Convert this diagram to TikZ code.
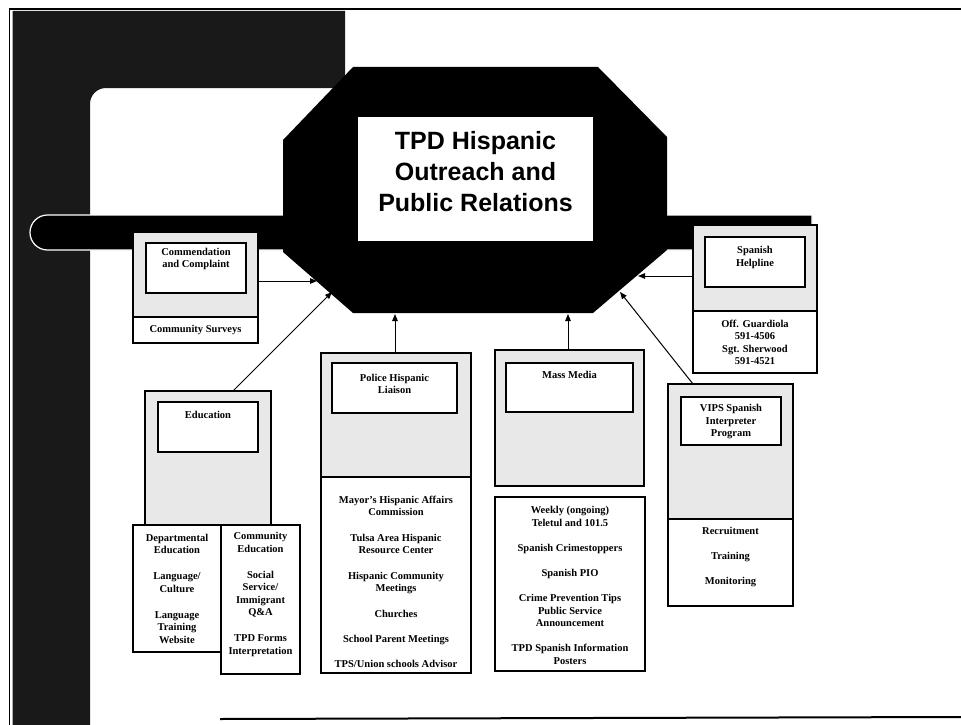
\documentclass[tikz,border=0pt]{standalone}
\usepackage{fontspec}
\setmainfont{Liberation Serif}
\newfontfamily\headfont{Liberation Sans}
\usetikzlibrary{arrows.meta}
\begin{document}
\begin{tikzpicture}[x=1pt,y=-1pt,
  panel/.style={draw, line width=1.2pt, fill=black!9, inner sep=0pt},
  inbox/.style={draw, line width=1.1pt, fill=white, inner sep=0pt},
  listbox/.style={draw, line width=1.2pt, fill=white, inner sep=0pt},
  lbl/.style={font=\fontsize{10.5}{12.5}\selectfont\bfseries, align=center, inner sep=0pt},
  conn/.style={line width=1pt, -{Triangle[length=7pt,width=5.5pt]}},
  frameline/.style={line width=2pt}]
\useasboundingbox (0,0) rectangle (961,725);
\fill[white] (0,0) rectangle (961,725);
% dark frame
\fill[black!90] (12.5,11) -- (345,11) -- (345,88) -- (106,88)
  arc[start angle=-90, end angle=-180, radius=16] -- (90,725) -- (12.5,725) -- cycle;
\draw[line width=2.5pt] (9.5,9) -- (961,9);
\draw[line width=1.5pt] (9.5,8) -- (9.5,725);
\draw[frameline] (220,719) -- (961,717);
% bar
\filldraw[fill=black, draw=white, line width=1.2pt] (812,215) -- (47.5,215)
  arc[start angle=-90, end angle=-270, radius=17.5] -- (812,250) -- cycle;
% octagon
\fill[black] (353,67) -- (598,67) -- (667,137) -- (667,250) -- (593,313)
  -- (353,313) -- (283,252) -- (283,140) -- cycle;
\node[fill=white, minimum width=235pt, minimum height=124pt, inner sep=0pt] (hub) at (475.5,179) {};
\node[font=\headfont\fontsize{25}{31}\selectfont\bfseries, align=center, inner sep=0pt] (title) at (475.5,172) {TPD Hispanic\\Outreach and\\Public Relations};
% Commendation
\node[panel, minimum width=125pt, minimum height=85pt] (comm) at (195.5,274.5) {};
\node[inbox, minimum width=100pt, minimum height=50pt] (commin) at (196,268) {};
\node[listbox, minimum width=125pt, minimum height=26pt] (commlist) at (195.5,330) {};
\node[lbl] (commt) at (196,259) {Commendation\\and Complaint};
\node[lbl] (comml) at (195.5,330) {Community Surveys};
% Education
\node[panel, minimum width=126pt, minimum height=134pt] (edu) at (208,458) {};
\node[inbox, minimum width=100pt, minimum height=50pt] (eduin) at (208,427) {};
\node[listbox, minimum width=88pt, minimum height=127pt] (eduleft) at (177,588.5) {};
\node[listbox, minimum width=79pt, minimum height=149pt] (eduright) at (260.5,599.5) {};
\node[lbl] (edut) at (208,415) {Education};
\node[lbl] (edull) at (177,588.5) {Departmental\\Education\\[13.5pt]Language/\\Culture\\[13.5pt]Language\\Training\\Website};
\node[lbl] (edurl) at (260.5,594.5) {Community\\Education\\[13.5pt]Social\\Service/\\Immigrant\\Q\&A\\[13.5pt]TPD Forms\\Interpretation};
% Police
\node[panel, minimum width=150pt, minimum height=124pt] (pol) at (396,415) {};
\node[inbox, minimum width=125pt, minimum height=50pt] (polin) at (394.5,388) {};
\node[listbox, minimum width=150pt, minimum height=196pt] (pollist) at (396,575) {};
\node[lbl] (polt) at (394.5,384) {Police Hispanic\\Liaison};
\node[lbl] (poll) at (396,581.5) {Mayor's Hispanic Affairs\\Commission\\[13pt]Tulsa Area Hispanic\\Resource Center\\[13pt]Hispanic Community\\Meetings\\[13pt]Churches\\[13pt]School Parent Meetings\\[12pt]TPS/Union schools Advisor};
% Mass media
\node[panel, minimum width=149pt, minimum height=136pt] (mass) at (569.5,418) {};
\node[inbox, minimum width=127pt, minimum height=49pt] (massin) at (569.5,387.5) {};
\node[listbox, minimum width=150pt, minimum height=174pt] (masslist) at (570,584) {};
\node[lbl] (masst) at (569.5,375) {Mass Media};
\node[lbl] (massl) at (570,585.5) {Weekly (ongoing)\\Teletul and 101.5\\[12.5pt]Spanish Crimestoppers\\[12.5pt]Spanish PIO\\[13pt]Crime Prevention Tips\\Public Service\\Announcement\\[12.5pt]TPD Spanish Information\\Posters};
% Helpline
\node[panel, minimum width=124pt, minimum height=86pt] (help) at (755,268) {};
\node[inbox, minimum width=100pt, minimum height=50pt] (helpin) at (755,262) {};
\node[listbox, minimum width=124pt, minimum height=62pt] (helplist) at (755,342) {};
\node[lbl] (helpt) at (755,257.5) {Spanish\\Helpline};
\node[lbl] (helpl) at (755,342.5) {Off. Guardiola\\591-4506\\Sgt. Sherwood\\591-4521};
% VIPS
\node[panel, minimum width=125pt, minimum height=135pt] (vips) at (730.5,451.5) {};
\node[inbox, minimum width=100pt, minimum height=48pt] (vipsin) at (731,421) {};
\node[listbox, minimum width=125pt, minimum height=87pt] (vipslist) at (730.5,562.5) {};
\node[lbl] (vipst) at (731,422) {VIPS Spanish\\Interpreter\\Program};
\node[lbl] (vipsl) at (730.5,557) {Recruitment\\[12.5pt]Training\\[12.5pt]Monitoring};
% connectors
\coordinate (hA) at (317,281);
\coordinate (eS) at (233,391);
\coordinate (hB) at (332,292);
\coordinate (hC) at (395,314);
\coordinate (hD) at (568,314);
\coordinate (hE) at (638,276);
\coordinate (vS) at (693,384);
\coordinate (hF) at (620,292);
\draw[conn] (comm.east |- hA) -- (hA);
\draw[conn] (eS) -- (hB);
\draw[conn] (pol.north -| hC) -- (hC);
\draw[conn] (mass.north -| hD) -- (hD);
\draw[conn] (help.west |- hE) -- (hE);
\draw[conn] (vS) -- (hF);
\end{tikzpicture}
\end{document}
